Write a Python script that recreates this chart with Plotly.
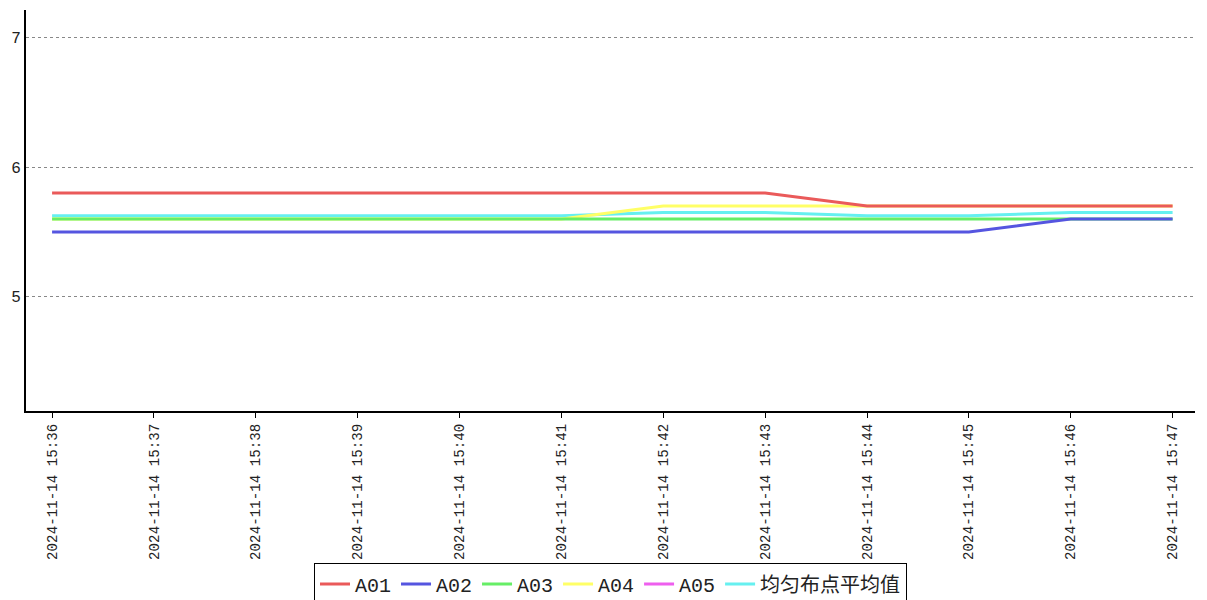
import plotly.graph_objects as go

times = ["2024-11-14 15:36", "2024-11-14 15:37", "2024-11-14 15:38", "2024-11-14 15:39",
         "2024-11-14 15:40", "2024-11-14 15:41", "2024-11-14 15:42", "2024-11-14 15:43",
         "2024-11-14 15:44", "2024-11-14 15:45", "2024-11-14 15:46", "2024-11-14 15:47"]

a01 = [5.8, 5.8, 5.8, 5.8, 5.8, 5.8, 5.8, 5.8, 5.7, 5.7, 5.7, 5.7]
a02 = [5.5, 5.5, 5.5, 5.5, 5.5, 5.5, 5.5, 5.5, 5.5, 5.5, 5.6, 5.6]
a03 = [5.6, 5.6, 5.6, 5.6, 5.6, 5.6, 5.6, 5.6, 5.6, 5.6, 5.6, 5.6]
a04 = [5.6, 5.6, 5.6, 5.6, 5.6, 5.6, 5.7, 5.7, 5.7, 5.7, 5.7, 5.7]
a05 = [None] * 12
avg = [5.625, 5.625, 5.625, 5.625, 5.625, 5.625, 5.65, 5.65, 5.625, 5.625, 5.65, 5.65]

series = [
    ("A01", a01, "#ea5a5a"),
    ("A02", a02, "#5555e0"),
    ("A03", a03, "#66ee66"),
    ("A04", a04, "#ffff66"),
    ("A05", a05, "#ee5fee"),
    ("均匀布点平均值", avg, "#66f0f0"),
]

latin = "Liberation Mono, Noto Sans CJK SC, monospace"

fig = go.Figure()
# first series drawn on top: add in reverse, show legend reversed
for name, vals, color in reversed(series):
    fig.add_trace(go.Scatter(
        x=times, y=vals, name=name, mode="lines",
        line=dict(color=color, width=3),
        showlegend=True,
    ))

# page body has an 8px margin, so the figure is offset by 8px
fig.update_layout(
    width=1199, height=592,
    margin=dict(l=18, r=12, t=2, b=189, autoexpand=False),
    paper_bgcolor="white", plot_bgcolor="white",
    font=dict(family=latin, color="#222"),
    legend=dict(
        orientation="h", x=0.5, xanchor="center", y=-0.38, yanchor="top",
        bordercolor="black", borderwidth=1, bgcolor="white",
        font=dict(size=20, family=latin, color="#222"),
        itemwidth=30, traceorder="reversed",
    ),
    xaxis=dict(
        type="category", range=[-0.256, 11.22], automargin=False,
        showline=True, linecolor="black", linewidth=2,
        ticks="outside", ticklen=5, tickcolor="black",
        tickangle=-90, tickfont=dict(size=14.2, family=latin, color="#222"),
        showgrid=False, zeroline=False,
    ),
    yaxis=dict(
        range=[4.12, 7.21], automargin=False,
        tickvals=[5, 6, 7], ticktext=["5", "6", "7"],
        showline=True, linecolor="black", linewidth=2,
        ticks="", tickfont=dict(size=16, family=latin, color="#222"),
        showgrid=True, gridcolor="#888", griddash="dot", gridwidth=1,
        zeroline=False,
    ),
)

fig.write_html("out.html")
